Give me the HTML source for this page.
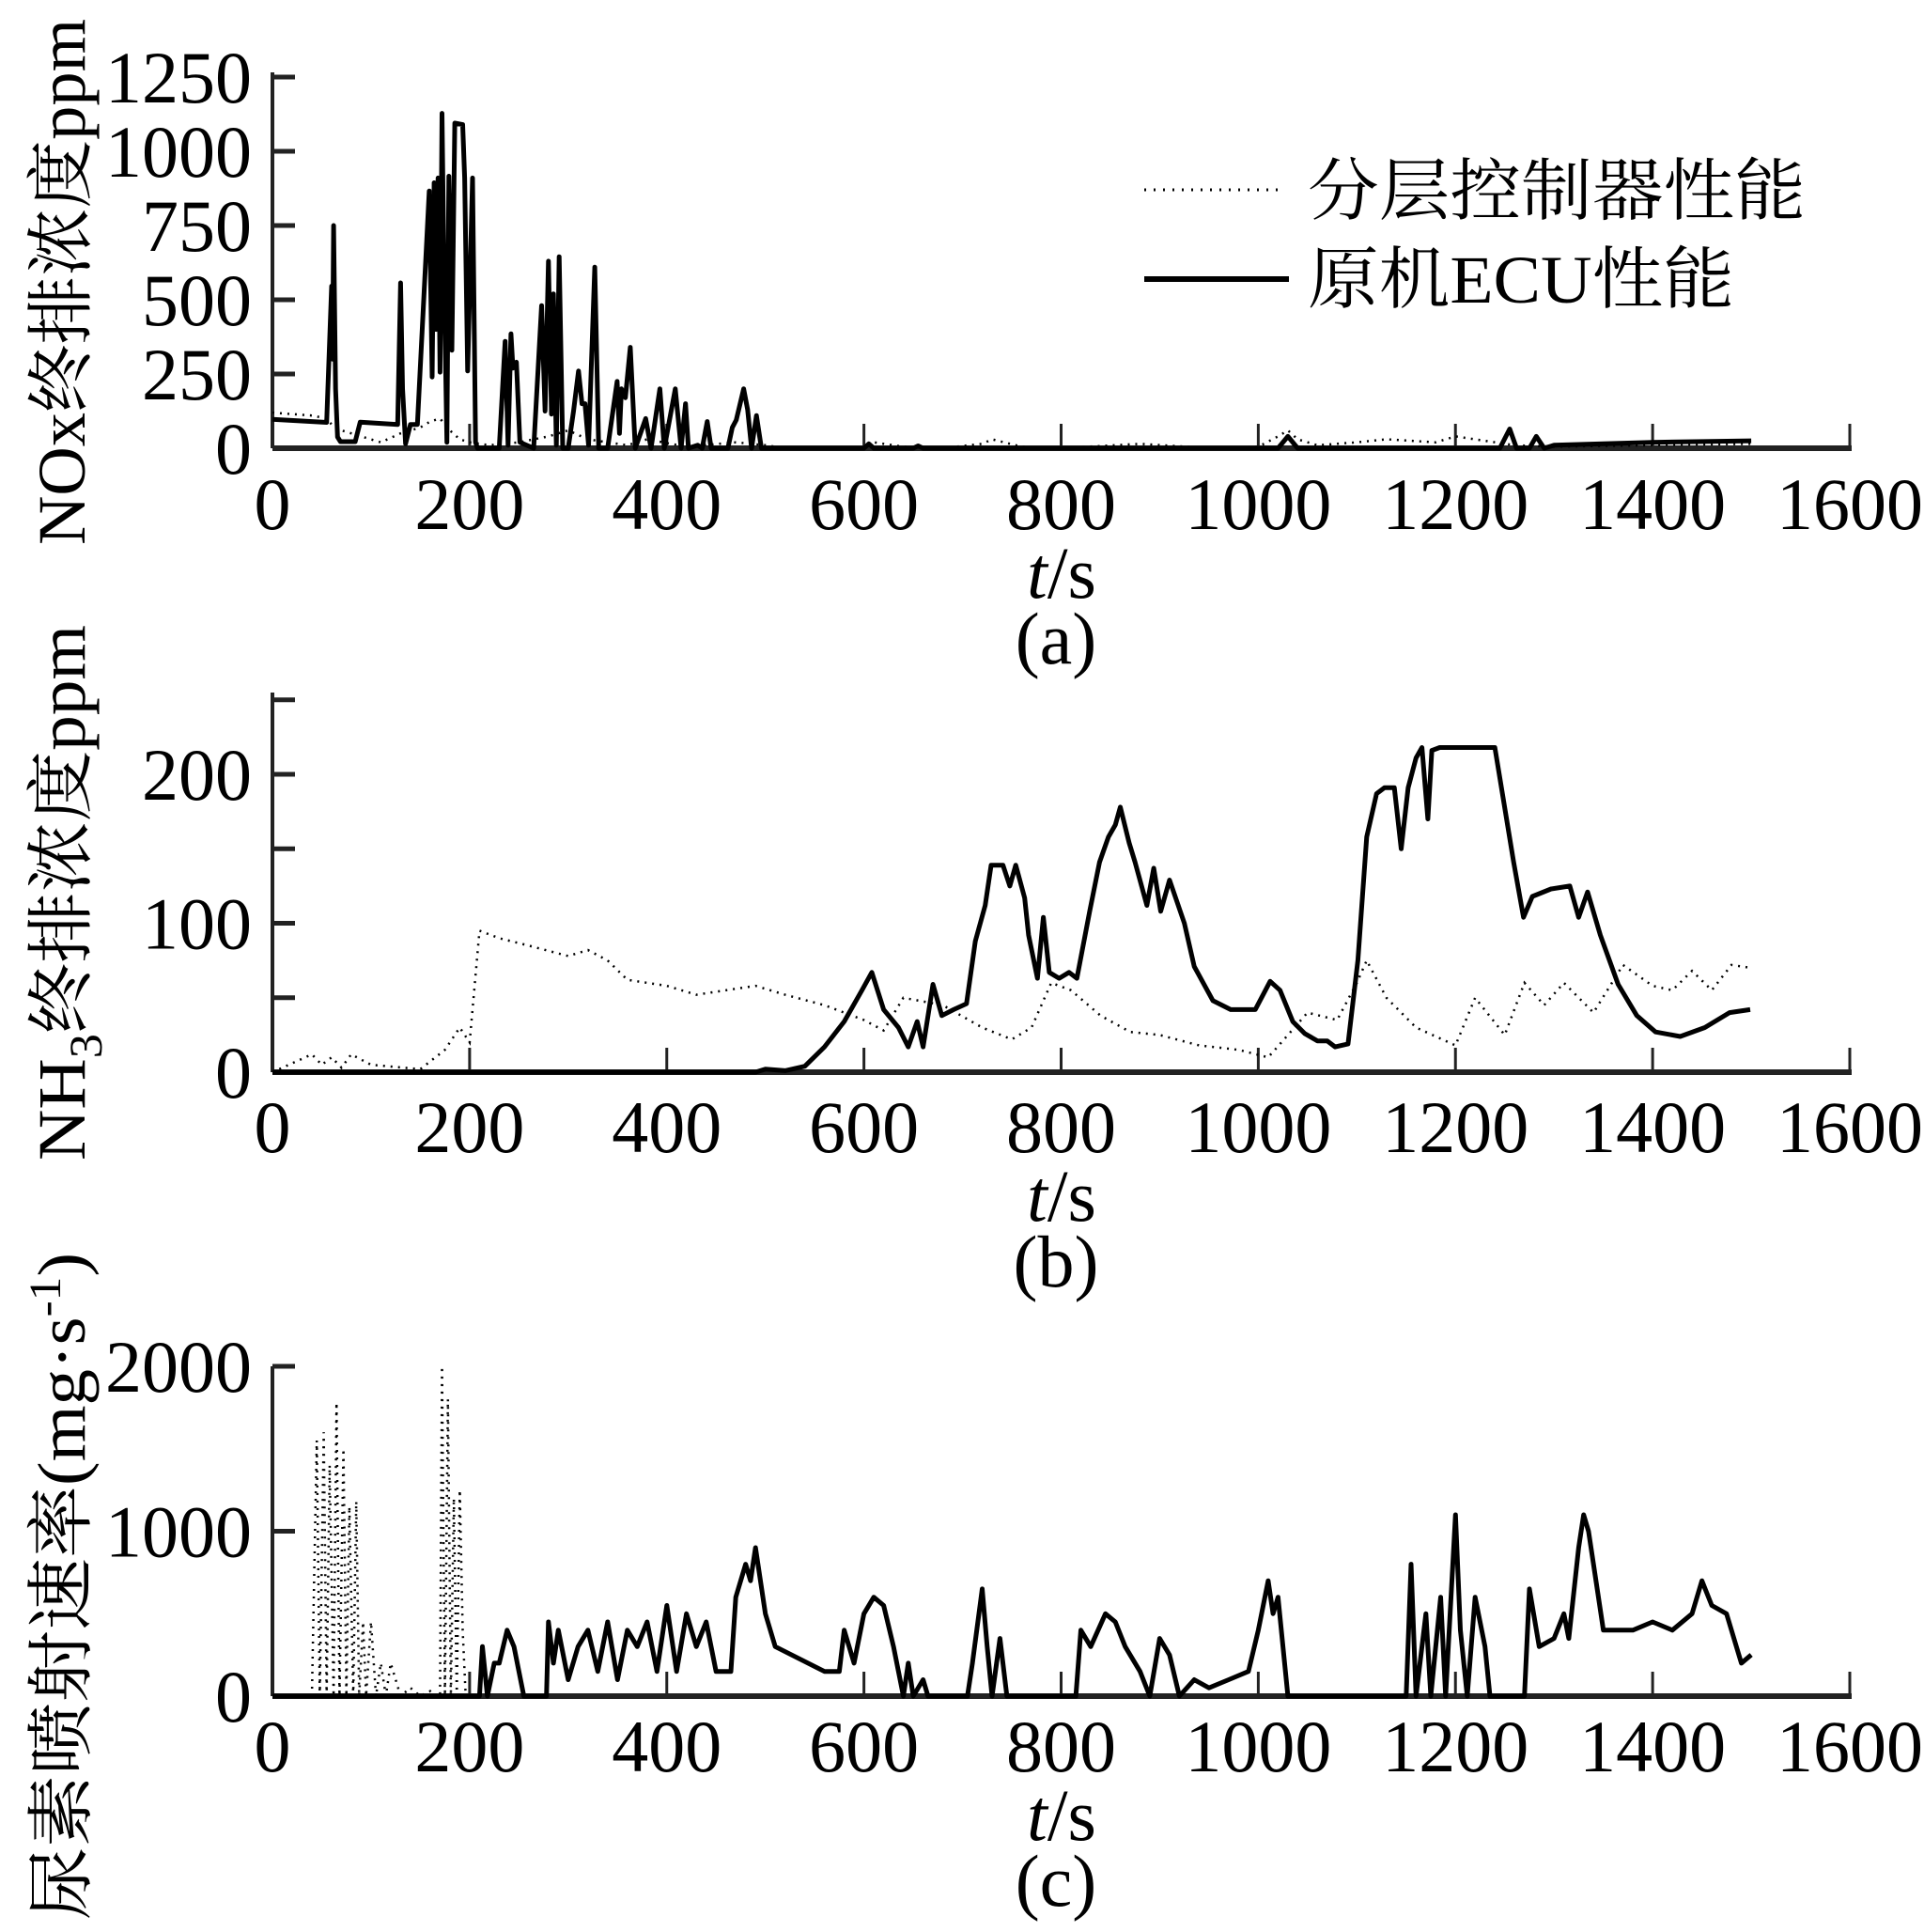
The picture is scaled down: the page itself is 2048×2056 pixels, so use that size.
<!DOCTYPE html>
<html><head><meta charset="utf-8"><style>
html,body{margin:0;padding:0;background:#fff;}
svg{display:block;}
text{font-family:"Liberation Serif","Noto Serif CJK SC",serif;fill:#000;}
</style></head><body>
<svg id="chart" width="2048" height="2056" viewBox="0 0 2048 2056" xmlns="http://www.w3.org/2000/svg">
<g>
<line x1="1218" y1="202" x2="1368" y2="202" stroke="#000" stroke-width="3" stroke-dasharray="2,8"/>
<text x="1392" y="228" font-size="72" textLength="530" lengthAdjust="spacingAndGlyphs">分层控制器性能</text>
<line x1="1218" y1="297" x2="1372" y2="297" stroke="#000" stroke-width="6"/>
<text x="1392" y="322" font-size="72" textLength="454" lengthAdjust="spacingAndGlyphs">原机ECU性能</text>
</g>
</svg>
<script>
// ---- Panel (a) NOx data ----
const aEcuT=[0,55,60,61,62,64,66,69,84,89,127,130,132,135,140,147,159,162,164,166,168,170,172,174,177,179,182,185,193,195,198,203,206,208,210,212,213.5,215,217,230,236,239,242,244,247.5,251,265,273,276.5,280,283,285,288,290.8,294.5,300,305.4,310.5,314,317,320.7,327,331,340,349.6,352,354,358,363,368,378.6,384,393,397.5,408.6,414.5,419,422,431.4,436,441,445,462,466.5,470.5,478,482,486,491,496,500,600,605,610,650,655,660,1020,1030,1040,1245,1255,1262,1275,1282,1290,1300,1400,1500];
const aEcuV=[97,87,546,300,750,200,38,22,22,88,80,557,200,15,80,80,866,240,894,400,910,256,1128,600,20,916,330,1095,1090,910,260,910,20,0,0,0,0,0,0,0,360,10,385,270,290,20,0,480,125,630,115,520,10,645,0,0,125,260,150,150,10,610,0,0,225,50,200,170,340,0,100,0,200,0,200,0,150,0,10,0,90,0,0,70,95,200,130,0,110,0,0,0,15,0,0,8,0,0,40,0,0,65,0,0,40,0,10,20,25];
const aDotT=[0,20,40,55,60,70,90,110,130,150,160,170,180,190,200,220,250,280,300,320,340,360,380,420,470,500,520,600,610,640,680,720,730,760,800,880,950,1000,1020,1030,1040,1060,1100,1130,1180,1200,1230,1260,1300,1400,1500];
const aDotV=[120,115,110,100,80,60,40,20,50,70,90,100,60,30,20,10,20,40,60,30,20,10,30,5,20,10,0,0,20,5,0,15,30,5,0,15,0,5,40,60,30,10,20,30,20,40,25,10,5,10,15];
const aYTicks=[0,250,500,750,1000,1250];
// ---- Panel (b) NH3 data ----
const bEcuT=[0,490,500,520,540,560,580,598,608,620,635,645,654,660,670,679,691,704,713,723,729,741,748,754,763,767,776,782,788,798,808,816,829,839,848,855,860,869,875,887,894,901,910,925,935,954,972,997,1012,1022,1035,1047,1060,1070,1078,1091,1101,1110,1120,1128,1138,1145,1152,1160,1166,1172,1176,1184,1240,1259,1269,1278,1297,1316,1325,1334,1347,1365,1384,1403,1428,1453,1478,1499];
const bEcuV=[0,0,2,1,4,17,34,55,67,42,30,17,34,17,59,38,42,46,88,112,139,139,125,139,117,92,63,104,67,63,67,63,108,141,158,166,178,154,141,112,137,108,129,100,71,48,42,42,61,55,34,26,21,21,17,19,75,158,187,191,191,150,191,211,218,170,216,218,218,141,104,118,123,125,104,121,92,59,38,27,24,30,40,42];
const bDotT=[0,40,50,60,70,80,100,150,175,190,200,210,230,260,300,320,340,360,400,430,460,490,520,560,600,620,640,680,720,750,770,790,810,840,870,900,940,980,1010,1030,1050,1080,1100,1110,1130,1160,1200,1220,1250,1270,1290,1310,1340,1370,1400,1420,1440,1460,1480,1500];
const bDotV=[0,12,5,10,3,12,5,2,15,30,20,95,90,85,78,82,75,62,58,52,55,58,52,45,35,28,50,45,30,22,30,60,55,38,27,25,18,15,10,25,40,35,60,75,50,30,18,50,25,60,45,60,40,72,58,55,68,55,72,70];
const bYTicks=[0,50,100,150,200,250];
const bYLabels=[0,100,200];
// ---- Panel (c) Urea data ----
const cDotT=[40,45,48,52,55,58,62,65,68,72,75,78,82,85,88,92,95,100,105,110,115,120,130,140,150,160,165,170,172,175,178,181,184,187,190,193,196];
const cDotV=[0,1550,0,1600,0,1400,0,1780,0,1500,0,1150,0,1180,0,450,0,450,0,200,0,200,0,50,0,30,0,0,2000,0,1800,0,1200,0,1250,400,0];
const cEcuT=[0,205,210,213,218,225,230,238,245,255,275,278,280,285,290,300,310,320,330,340,350,360,370,380,390,400,410,420,430,440,450,465,470,480,485,490,500,510,560,575,580,590,600,610,620,630,640,645,650,660,665,705,710,720,725,730,738,745,815,820,830,845,855,865,880,890,900,910,920,935,950,970,990,1000,1010,1015,1020,1030,1150,1155,1160,1170,1175,1185,1190,1200,1205,1212,1220,1230,1235,1270,1275,1285,1300,1310,1315,1325,1330,1335,1340,1350,1380,1400,1420,1440,1450,1460,1475,1485,1490,1500];
const cEcuV=[0,0,0,300,0,200,200,400,300,0,0,0,450,200,400,100,300,400,150,450,100,400,300,450,150,550,150,500,300,450,150,150,600,800,700,900,500,300,150,150,400,200,500,600,550,300,0,200,0,100,0,0,200,650,300,0,350,0,0,400,300,500,450,300,150,0,350,250,0,100,50,100,150,400,700,500,600,0,0,800,0,500,0,600,0,1100,400,0,600,300,0,0,650,300,350,500,350,900,1100,1000,800,400,400,450,400,500,700,550,500,300,200,250];
const cYTicks=[0,1000,2000];
const xTicks=[0,200,400,600,800,1000,1200,1400,1600];

const NS='http://www.w3.org/2000/svg';
const svg=document.getElementById('chart');
const X0=290,X1=1969;
function xs(t){return X0+(X1-X0)*t/1600;}
function mk(tag,attrs,parent){const e=document.createElementNS(NS,tag);for(const k in attrs)e.setAttribute(k,attrs[k]);(parent||svg).appendChild(e);return e;}
function path(T,V,ys){let d='';for(let i=0;i<T.length;i++)d+=(i?'L':'M')+xs(T[i]).toFixed(1)+' '+ys(V[i]).toFixed(1);return d;}

function panel(cfg){
  const g=mk('g',{});
  
  
  const ys=v=>cfg.y0-(cfg.y0-cfg.yRef)*v/cfg.vRef;
  // axes
  const ya=mk('line',{x1:X0,y1:cfg.top,x2:X0,y2:cfg.y0,stroke:'#222','stroke-width':4},g);
  
  
  const xa=mk('line',{x1:X0,y1:cfg.y0,x2:X1+2,y2:cfg.y0,stroke:'#222','stroke-width':6},g);
  
  
  cfg.yTicks.forEach(v=>{
    const t=mk('line',{x1:X0,y1:ys(v),x2:X0+24,y2:ys(v),stroke:'#222','stroke-width':5},g);
    
    
  });
  cfg.yLabels.forEach(v=>{
    const t=mk('text',{x:268,y:ys(v)+27,'font-size':78,'text-anchor':'end'},g);
    t.textContent=String(v);
    
    
  });
  xTicks.forEach(v=>{
    const t=mk('line',{x1:xs(v),y1:cfg.y0,x2:xs(v),y2:cfg.y0-26,stroke:'#222','stroke-width':3},g);
    
    
    const l=mk('text',{x:xs(v),y:cfg.xlabY,'font-size':78,'text-anchor':'middle'},g);
    l.textContent=String(v);
    
    
  });
  const xt=mk('text',{x:1130,y:cfg.xlabY+73,'font-size':78,'text-anchor':'middle'},g);
  xt.innerHTML='<tspan font-style="italic">t</tspan>/s';
  
  
  const cap=mk('text',{x:1124,y:cfg.xlabY+143,'font-size':78,'text-anchor':'middle'},g);
  cap.textContent=cfg.caption;
  
  
  const yt=mk('text',{x:0,y:0,'font-size':72,'text-anchor':'middle',transform:'translate(90,'+cfg.titleY+') rotate(-90)',textLength:cfg.titleLen,lengthAdjust:'spacingAndGlyphs'},g);
  yt.innerHTML=cfg.title;
  
  
  const dp=mk('path',{d:path(cfg.dotT,cfg.dotV,ys),fill:'none',stroke:'#000','stroke-width':2.5,'stroke-dasharray':'2,6'},g);
  
  
  const sp=mk('path',{d:path(cfg.ecuT,cfg.ecuV,ys),fill:'none',stroke:'#000','stroke-width':5,'stroke-linejoin':'round'},g);
  
  
}
panel({name:'panel-a-nox',y0:477,yRef:82,vRef:1250,top:77,yTicks:aYTicks,yLabels:aYTicks,xlabY:563,caption:'(a)',
  title:'NOx终排浓度ppm',titleY:300,titleLen:560,dotT:aDotT,dotV:aDotV,ecuT:aEcuT,ecuV:aEcuV});
panel({name:'panel-b-nh3',y0:1141,yRef:824,vRef:200,top:737,yTicks:bYTicks,yLabels:bYLabels,xlabY:1226,caption:'(b)',
  title:'NH<tspan font-size="50" dy="18">3</tspan><tspan dy="-18">终排浓度ppm</tspan>',titleY:950,titleLen:570,dotT:bDotT,dotV:bDotV,ecuT:bEcuT,ecuV:bEcuV});
panel({name:'panel-c-urea',y0:1805,yRef:1454,vRef:2000,top:1454,yTicks:cYTicks,yLabels:cYTicks,xlabY:1885,caption:'(c)',
  title:'尿素喷射速率(mg·s<tspan font-size="48" dy="-26">-1</tspan><tspan dy="26">)</tspan>',titleY:1688,titleLen:710,dotT:cDotT,dotV:cDotV,ecuT:cEcuT,ecuV:cEcuV});
</script>
</body></html>
